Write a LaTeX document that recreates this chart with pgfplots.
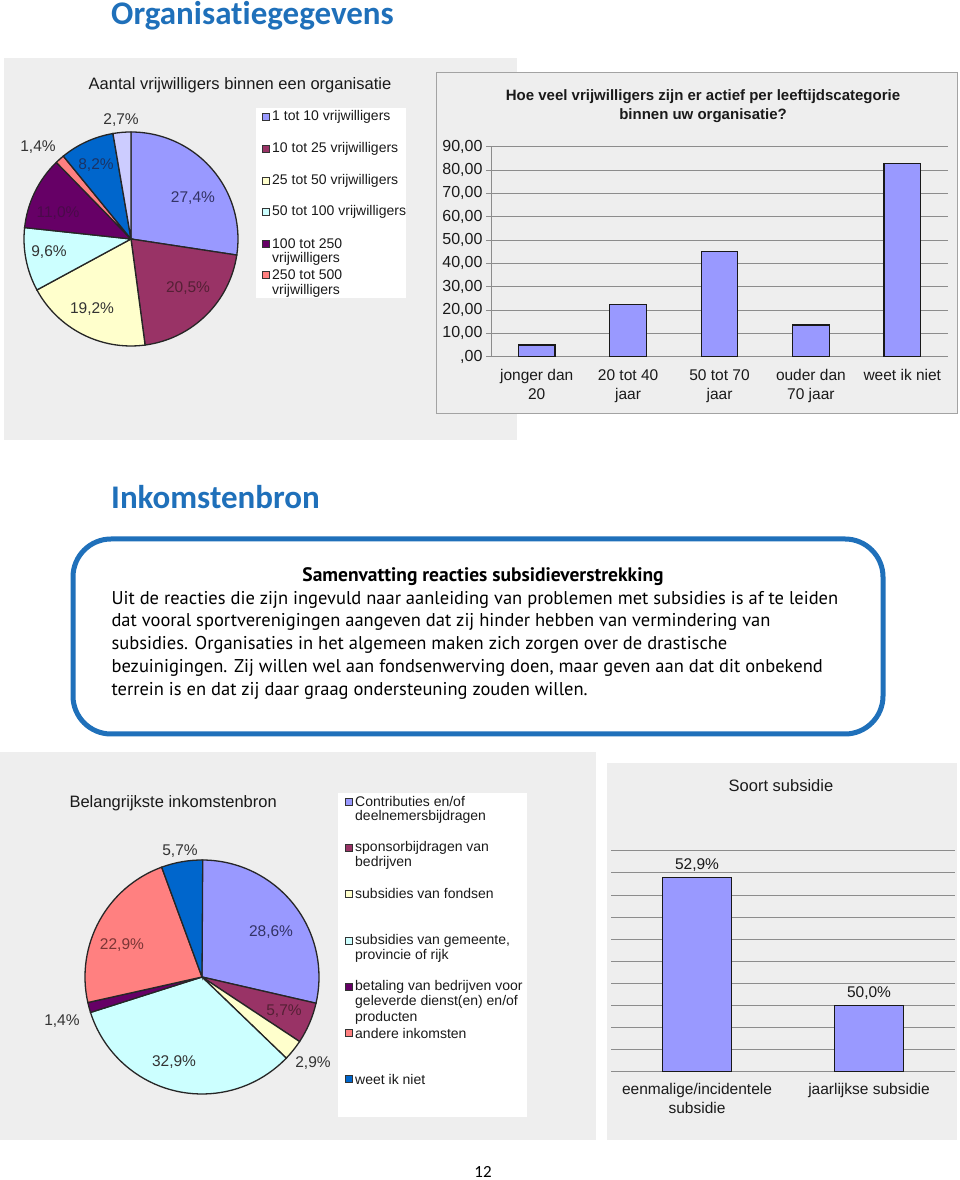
\documentclass[border=0pt]{standalone}
\usepackage{pgfplots}
\pgfplotsset{compat=1.18}
\usepackage{fontspec}
\setmainfont{Liberation Sans}
\newfontfamily\calibri[Ligatures={NoCommon,NoDiscretionary}]{Carlito}
\newfontfamily\din{PT Sans}
\definecolor{cA}{HTML}{9999FF}
\definecolor{cB}{HTML}{993366}
\definecolor{cC}{HTML}{FFFFCC}
\definecolor{cD}{HTML}{CCFFFF}
\definecolor{cE}{HTML}{660066}
\definecolor{cF}{HTML}{FF8080}
\definecolor{cG}{HTML}{0066CC}
\definecolor{cH}{HTML}{CCCCFF}
\definecolor{panel}{HTML}{EEEEEE}
\definecolor{headblue}{HTML}{1F70BA}
\definecolor{gridgray}{HTML}{8C8C8C}
\definecolor{txt}{HTML}{1A1A1A}
\definecolor{lnavy}{HTML}{333366}
\definecolor{lmaroon}{HTML}{552035}
\definecolor{lpurple}{HTML}{4A0A4A}
\definecolor{lblue}{HTML}{1A3366}
\definecolor{lred}{HTML}{7A3535}
\definecolor{lgray}{HTML}{333333}
\newcommand{\ff}[1]{\fontsize{#1}{#1}\selectfont}
\begin{document}
\begin{tikzpicture}[x=1pt,y=1pt,font=\ff{15.5},text=txt]
\useasboundingbox (0,0) rectangle (960,1180);
\fill[white] (0,0) rectangle (960,1180);
% panels
\fill[panel] (4,740) rectangle (517,1122);
\filldraw[fill=panel,draw=gridgray!80,line width=0.8pt] (436,767) rectangle (957,1108);
\fill[panel] (0,40) rectangle (596,428);
\fill[panel] (607,40) rectangle (957,417);
\fill[white] (256,882) rectangle (406,1072);
\fill[white] (338,63) rectangle (527,387);
% headings
\node[anchor=base west,inner sep=0pt,text=headblue,font=\calibri\bfseries\ff{33}] at (111,1155.5) {Organisatiegegevens};
\node[anchor=base west,inner sep=0pt,text=headblue,font=\calibri\bfseries\ff{33}] at (111,671) {Inkomstenbron};
\node[font=\calibri\ff{17},text=black] at (483,8) {12};
% text box
\draw[headblue,line width=5pt,rounded corners=38pt] (73,446) rectangle (883,641);
\node[font=\din\bfseries\ff{19.5},text=black] at (483,603) {Samenvatting reacties subsidieverstrekking};
\begin{scope}[every node/.style={anchor=west,font=\din\ff{18.5},text=black}]
\node at (108,580) {Uit de reacties die zijn ingevuld naar aanleiding van problemen met subsidies is af te leiden};
\node at (108,558) {dat vooral sportverenigingen aangeven dat zij hinder hebben van vermindering van};
\node at (108,535) {subsidies. Organisaties in het algemeen maken zich zorgen over de drastische};
\node at (108,512) {bezuinigingen. Zij willen wel aan fondsenwerving doen, maar geven aan dat dit onbekend};
\node at (108,489) {terrein is en dat zij daar graag ondersteuning zouden willen.};
\end{scope}
% ---------- pie 1
\node[font=\ff{16.5}] at (240,1095) {Aantal vrijwilligers binnen een organisatie};
\begin{axis}[at={(131pt,941pt)},anchor=center,scale only axis,width=214pt,height=214pt,
  xmin=-1,xmax=1,ymin=-1,ymax=1,hide axis,clip=false]
\addplot[draw=none] coordinates {(0,0)};
\def\startang{90}
\foreach \v/\c in {27.4/cA,20.5/cB,19.2/cC,9.6/cD,11.0/cE,1.4/cF,8.2/cG,2.7/cH}{
  \pgfmathsetmacro\endang{\startang-3.6*\v}
  \edef\temp{\noexpand\filldraw[fill=\c,draw=black!85,line width=1.3pt] (axis cs:0,0) -- (axis cs:{cos(\startang)},{sin(\startang)}) arc[start angle=\startang,end angle=\endang,radius=107pt] -- cycle;}
  \temp
  \xdef\startang{\endang}
}
\node[text=lnavy] at (axis cs:0.579,0.383) {27,4\%};
\node[text=lmaroon] at (axis cs:0.533,-0.458) {20,5\%};
\node[text=lgray] at (axis cs:-0.364,-0.654) {19,2\%};
\node[text=lgray] at (axis cs:-0.766,-0.121) {9,6\%};
\node[text=lpurple] at (axis cs:-0.682,0.243) {11,0\%};
\node[text=lgray] at (axis cs:-0.869,0.860) {1,4\%};
\node[text=lblue] at (axis cs:-0.327,0.692) {8,2\%};
\node[text=lgray] at (axis cs:-0.093,1.112) {2,7\%};
\end{axis}
% legend 1
\begin{scope}[every node/.style={anchor=west,font=\ff{14},inner sep=0pt}]
\foreach \y/\c/\t in {1063/cA/1 tot 10 vrijwilligers,1031/cB/10 tot 25 vrijwilligers,999/cC/25 tot 50 vrijwilligers,968/cD/50 tot 100 vrijwilligers,936/cE/100 tot 250,905/cF/250 tot 500}{
  \filldraw[fill=\c,draw=black!80,line width=0.6pt] (262,\y-3.5) rectangle +(7,7);
  \node at (272,\y) {\t};
}
\node at (272,921) {vrijwilligers};
\node at (272,889) {vrijwilligers};
\end{scope}
% ---------- bar chart 1
\node[font=\bfseries\ff{15}] at (703,1083) {Hoe veel vrijwilligers zijn er actief per leeftijdscategorie};
\node[font=\bfseries\ff{15}] at (703,1064) {binnen uw organisatie?};
\begin{axis}[at={(491pt,823.3pt)},anchor=south west,scale only axis,width=457pt,height=210pt,
  ymin=0,ymax=90,xmin=-0.5,xmax=4.5,
  ybar,bar width=36.7pt,
  axis x line*=bottom,axis y line*=left,
  axis line style={gridgray,line width=0.8pt},
  ytick={0,10,...,90},
  yticklabels={{,00},{10,00},{20,00},{30,00},{40,00},{50,00},{60,00},{70,00},{80,00},{90,00}},
  ymajorgrids,major grid style={gridgray,line width=0.8pt},
  xtick={0,1,2,3,4},
  xticklabels={{jonger dan\\20},{20 tot 40\\jaar},{50 tot 70\\jaar},{ouder dan\\70 jaar},{weet ik niet}},
  xticklabel style={align=center,font=\fontsize{15.5}{19}\selectfont,text=txt,yshift=-4pt},
  yticklabel style={font=\ff{16},text=txt},
  x tick style={draw=none},
  y tick style={gridgray,line width=0.8pt},
  tick align=outside,major tick length=5pt,
  extra x ticks={-0.5,0.5,1.5,2.5,3.5,4.5},extra x tick labels={},
  extra x tick style={grid=none,tick style={draw=gridgray,line width=0.8pt},major tick length=6pt},
]
\addplot[fill=cA,draw=black!90,line width=1.2pt] coordinates {(0,5.0) (1,22.4) (2,45.0) (3,13.6) (4,82.9)};
\end{axis}
% ---------- pie 2
\node[anchor=west,font=\ff{16.5}] at (66,377) {Belangrijkste inkomstenbron};
\begin{axis}[at={(202pt,203pt)},anchor=center,scale only axis,width=234pt,height=234pt,
  xmin=-1,xmax=1,ymin=-1,ymax=1,hide axis,clip=false]
\addplot[draw=none] coordinates {(0,0)};
\def\startang{90}
\foreach \v/\c in {28.6/cA,5.7/cB,2.9/cC,32.9/cD,1.4/cE,22.9/cF,5.7/cG}{
  \pgfmathsetmacro\endang{\startang-3.6*\v}
  \edef\temp{\noexpand\filldraw[fill=\c,draw=black!85,line width=1.3pt] (axis cs:0,0) -- (axis cs:{cos(\startang)},{sin(\startang)}) arc[start angle=\startang,end angle=\endang,radius=117pt] -- cycle;}
  \temp
  \xdef\startang{\endang}
}
\node[text=lnavy] at (axis cs:0.590,0.385) {28,6\%};
\node[text=lmaroon] at (axis cs:0.701,-0.291) {5,7\%};
\node[text=lgray] at (axis cs:0.949,-0.735) {2,9\%};
\node[text=lgray] at (axis cs:-0.239,-0.726) {32,9\%};
\node[text=lgray] at (axis cs:-1.197,-0.376) {1,4\%};
\node[text=lred] at (axis cs:-0.684,0.274) {22,9\%};
\node[text=lgray] at (axis cs:-0.188,1.077) {5,7\%};
\end{axis}
% legend 2
\begin{scope}[every node/.style={anchor=west,font=\ff{14},inner sep=0pt}]
\foreach \y/\c in {378/cA,332/cB,286/cC,239/cD,193/cE,147/cF,101/cG}{
  \filldraw[fill=\c,draw=black!80,line width=0.6pt] (345,\y-3.5) rectangle +(7,7);
}
\node at (355,378) {Contributies en/of};
\node at (355,363) {deelnemersbijdragen};
\node at (355,332) {sponsorbijdragen van};
\node at (355,317) {bedrijven};
\node at (355,286) {subsidies van fondsen};
\node at (355,239) {subsidies van gemeente,};
\node at (355,224) {provincie of rijk};
\node at (355,193) {betaling van bedrijven voor};
\node at (355,178) {geleverde dienst(en) en/of};
\node at (355,162) {producten};
\node at (355,147) {andere inkomsten};
\node at (355,101) {weet ik niet};
\end{scope}
% ---------- bar chart 2
\node[font=\ff{16.5}] at (781,394) {Soort subsidie};
\begin{axis}[at={(611pt,108.3pt)},anchor=south west,scale only axis,width=344pt,height=221pt,
  ymin=48.5,ymax=53.5,xmin=-0.5,xmax=1.5,
  ybar,bar width=69pt,
  axis x line*=bottom,axis y line*=left,
  x axis line style={gridgray,line width=0.8pt},
  y axis line style={draw=none},
  ytick={48.5,49,...,53.5},yticklabels={},
  y tick style={draw=none},
  ymajorgrids,major grid style={gridgray,line width=0.8pt},
  xtick={0,1},
  xticklabels={{eenmalige/incidentele\\subsidie},{jaarlijkse subsidie}},
  xticklabel style={align=center,font=\fontsize{15.5}{19}\selectfont,text=txt,yshift=-4pt},
  x tick style={draw=none},
  tick align=outside,
  extra x ticks={-0.5,0.5,1.5},extra x tick labels={},
  extra x tick style={grid=none,tick style={draw=gridgray,line width=0.8pt},major tick length=6pt},
  nodes near coords={\pgfmathprintnumber[fixed,fixed zerofill,precision=1,use comma,assume math mode=true]{\pgfplotspointmeta}\%},
  nodes near coords style={font=\ff{15.5},text=txt,yshift=2pt},
]
\addplot[fill=cA,draw=black!90,line width=1.2pt] coordinates {(0,52.9) (1,50.0)};
\end{axis}
\end{tikzpicture}
\end{document}
